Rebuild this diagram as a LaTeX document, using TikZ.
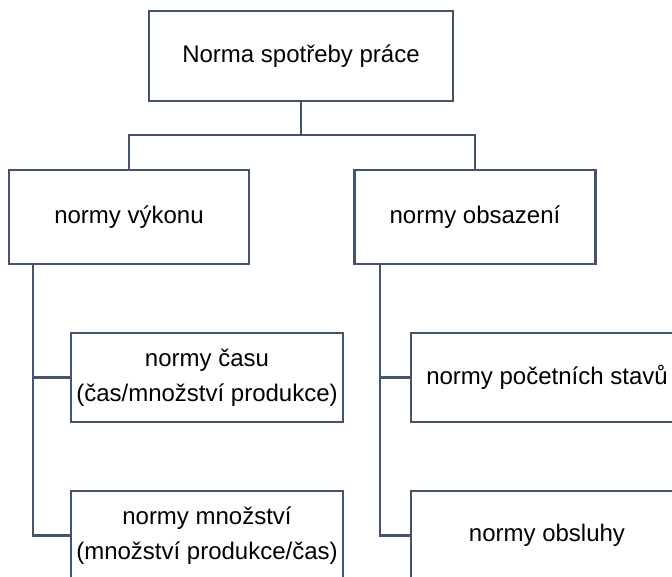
\documentclass[tikz,border=0pt]{standalone}
\usepackage{fontspec}
\setmainfont{Liberation Sans}
\definecolor{linec}{HTML}{44546A}
\tikzset{
  box/.style={draw=linec, line width=2.5pt, fill=white, rectangle, inner sep=0pt, align=center,
    font=\fontsize{24pt}{35pt}\selectfont},
  conn/.style={draw=linec, line width=2.5pt, line join=miter}
}
\begin{document}
\begin{tikzpicture}[x=1pt,y=-1pt]
\useasboundingbox (0,0) rectangle (672,576);
\clip (0,0) rectangle (672,576);
\node[box, minimum width=304pt, minimum height=90pt] (top) at (301,56) {Norma spotřeby práce};
\node[box, minimum width=240pt, minimum height=94pt] (vyk) at (129,217) {normy výkonu};
\node[box, minimum width=241pt, minimum height=94pt] (obs) at (475,217) {normy obsazení};
\node[box, minimum width=272pt, minimum height=89pt] (cas) at (207,377.5) {normy času\\(čas/množství produkce)};
\node[box, minimum width=272pt, minimum height=89pt] (mno) at (207,535.5) {normy množství\\(množství produkce/čas)};
\node[box, minimum width=272pt, minimum height=89pt] (poc) at (547,377.5) {normy početních stavů};
\node[box, minimum width=272pt, minimum height=89pt] (obl) at (547,535.5) {normy obsluhy};
\coordinate (bar) at (301,135);
\draw[conn] (top.south) -- (bar);
\draw[conn] (vyk.north) |- (bar) -| (obs.north);
\coordinate (lv) at (33,264);
\coordinate (rv) at (380,264);
\draw[conn] (lv) |- (cas.west);
\draw[conn] (lv) |- (mno.west);
\draw[conn] (rv) |- (poc.west);
\draw[conn] (rv) |- (obl.west);
\end{tikzpicture}
\end{document}
